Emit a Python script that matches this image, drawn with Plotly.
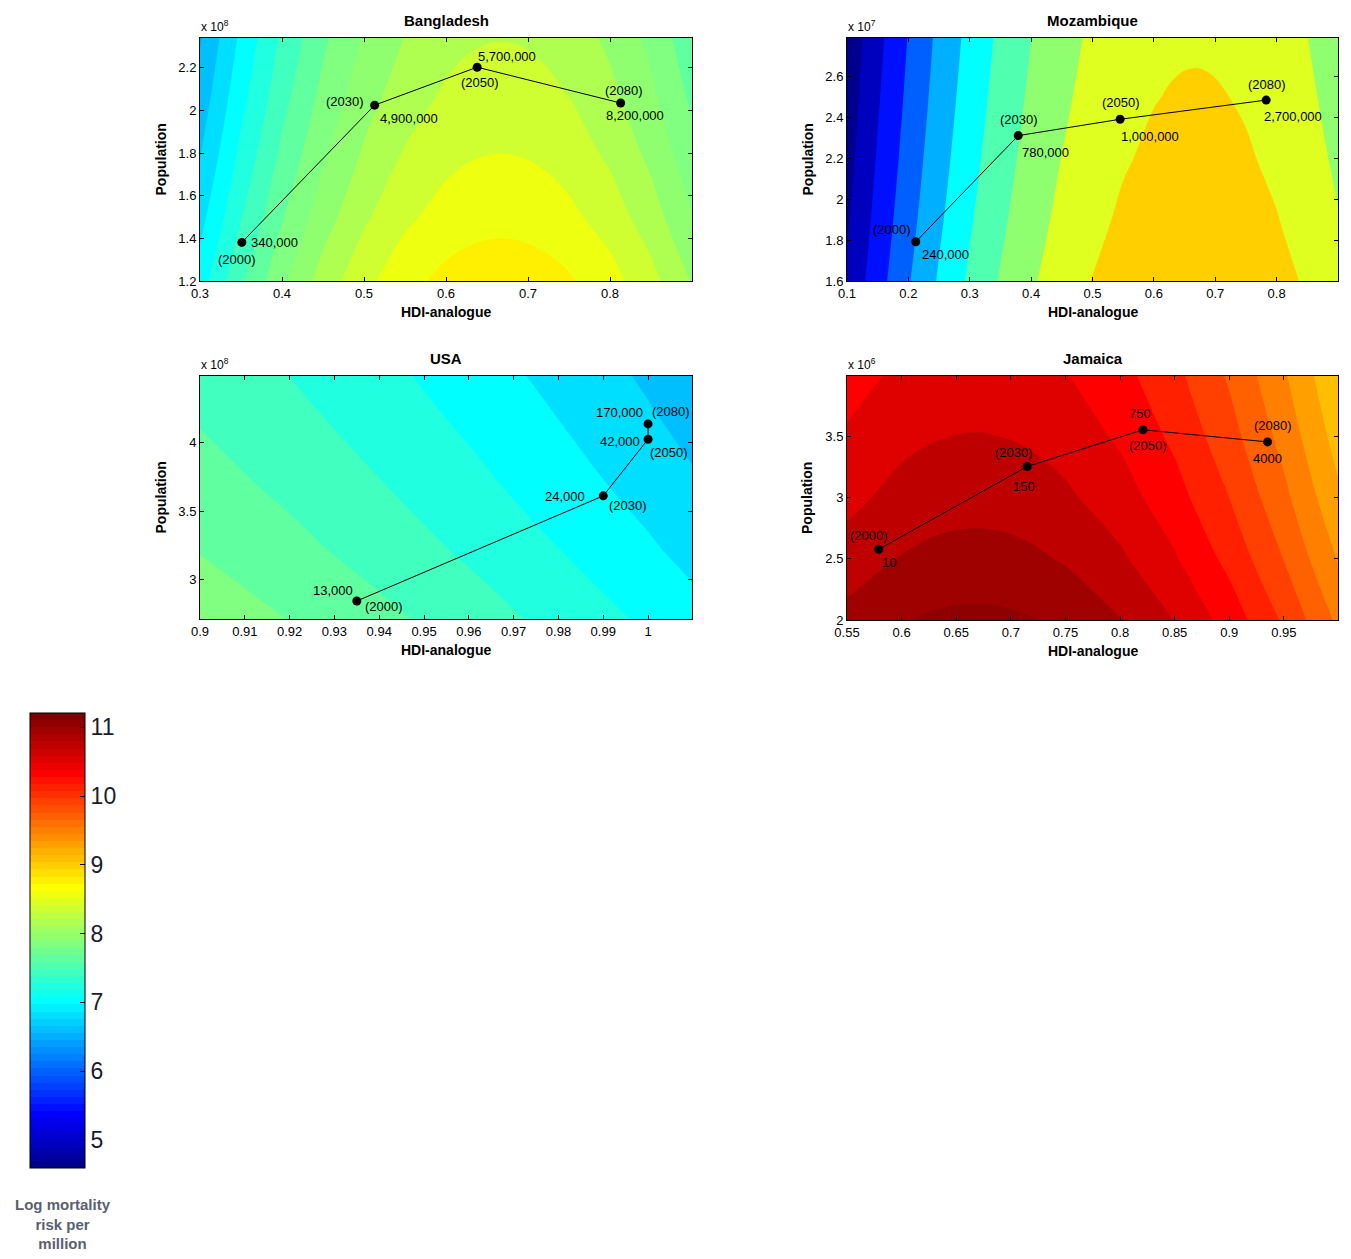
import math
import plotly.graph_objects as go

# =====================================================================
# DATA
# =====================================================================
YEARS = ["(2000)", "(2030)", "(2050)", "(2080)"]

# ---- Bangladesh (population in units of 10^8) ----
BGD_GRID_HDI = [0.30, 0.35, 0.40, 0.45, 0.50, 0.55, 0.60, 0.625, 0.65, 0.675,
                0.70, 0.725, 0.75, 0.80, 0.85, 0.90]
BGD_GRID_POP = [1.2, 1.5, 1.8, 2.1, 2.4]
BGD_Z = [
    [7.1055, 7.5655, 7.9583, 8.2838, 8.5420, 8.7330, 8.8567, 8.8934, 8.9132, 8.9162, 8.9025, 8.8719, 8.8244, 8.6792, 8.4667, 8.1869],
    [6.9305, 7.3905, 7.7833, 8.1088, 8.3670, 8.5580, 8.6817, 8.7184, 8.7382, 8.7412, 8.7275, 8.6969, 8.6494, 8.5042, 8.2917, 8.0119],
    [6.7876, 7.2476, 7.6404, 7.9659, 8.2241, 8.4151, 8.5388, 8.5755, 8.5953, 8.5983, 8.5846, 8.5540, 8.5065, 8.3613, 8.1488, 7.8690],
    [6.6667, 7.1267, 7.5195, 7.8450, 8.1032, 8.2942, 8.4179, 8.4546, 8.4744, 8.4774, 8.4637, 8.4331, 8.3856, 8.2404, 8.0279, 7.7481],
    [6.5620, 7.0220, 7.4148, 7.7403, 7.9985, 8.1895, 8.3132, 8.3499, 8.3697, 8.3727, 8.3590, 8.3284, 8.2809, 8.1357, 7.9232, 7.6434],
]
BGD_HDI = [0.351, 0.513, 0.638, 0.813]
BGD_POP = [1.381, 2.025, 2.203, 2.035]
BGD_RISK = ["340,000", "4,900,000", "5,700,000", "8,200,000"]
BGD_XTICKS = [0.3, 0.4, 0.5, 0.6, 0.7, 0.8]
BGD_YTICKS = [1.2, 1.4, 1.6, 1.8, 2.0, 2.2]

# ---- Mozambique (population in units of 10^7) ----
MOZ_GRID_HDI = [0.10, 0.15, 0.20, 0.25, 0.30, 0.35, 0.40, 0.45, 0.50, 0.55, 0.60,
                0.625, 0.65, 0.675, 0.70, 0.725, 0.75, 0.80, 0.85, 0.90]
MOZ_GRID_POP = [1.6, 1.9, 2.2, 2.5, 2.8]
MOZ_Z = [
    [5.0685, 5.7975, 6.4592, 7.0537, 7.5809, 8.0409, 8.4337, 8.7592, 9.0174, 9.2084, 9.3321, 9.3688, 9.3886, 9.3916, 9.3779, 9.3473, 9.2998, 9.1546, 8.9421, 8.6623],
    [4.9338, 5.6628, 6.3245, 6.9190, 7.4462, 7.9062, 8.2990, 8.6245, 8.8827, 9.0737, 9.1974, 9.2341, 9.2539, 9.2569, 9.2432, 9.2126, 9.1651, 9.0199, 8.8074, 8.5276],
    [4.8188, 5.5478, 6.2095, 6.8040, 7.3312, 7.7912, 8.1840, 8.5095, 8.7677, 8.9587, 9.0824, 9.1191, 9.1389, 9.1419, 9.1282, 9.0976, 9.0501, 8.9049, 8.6924, 8.4126],
    [4.7186, 5.4476, 6.1093, 6.7038, 7.2310, 7.6910, 8.0838, 8.4093, 8.6675, 8.8585, 8.9822, 9.0189, 9.0387, 9.0417, 9.0280, 8.9974, 8.9499, 8.8047, 8.5922, 8.3124],
    [4.6298, 5.3588, 6.0205, 6.6150, 7.1422, 7.6022, 7.9950, 8.3205, 8.5787, 8.7697, 8.8934, 8.9301, 8.9499, 8.9529, 8.9392, 8.9086, 8.8611, 8.7159, 8.5034, 8.2236],
]
MOZ_HDI = [0.212, 0.379, 0.545, 0.783]
MOZ_POP = [1.792, 2.312, 2.392, 2.486]
MOZ_RISK = ["240,000", "780,000", "1,000,000", "2,700,000"]
MOZ_XTICKS = [0.1, 0.2, 0.3, 0.4, 0.5, 0.6, 0.7, 0.8]
MOZ_YTICKS = [1.6, 1.8, 2.0, 2.2, 2.4, 2.6]

# ---- USA (population in units of 10^8) ----
USA_GRID_HDI = [0.90, 0.92, 0.94, 0.96, 0.98, 1.00, 1.02]
USA_GRID_POP = [2.7, 3.2, 3.7, 4.2, 4.5]
USA_Z = [
    [7.9283, 7.7976, 7.6561, 7.5038, 7.3408, 7.1670, 6.9825],
    [7.7951, 7.6644, 7.5229, 7.3706, 7.2076, 7.0338, 6.8493],
    [7.6813, 7.5506, 7.4091, 7.2568, 7.0938, 6.9200, 6.7355],
    [7.5819, 7.4512, 7.3097, 7.1574, 6.9944, 6.8206, 6.6361],
    [7.5278, 7.3971, 7.2556, 7.1033, 6.9403, 6.7665, 6.5820],
]
USA_HDI = [0.935, 0.990, 1.000, 1.000]
USA_POP = [2.842, 3.612, 4.027, 4.139]
USA_RISK = ["13,000", "24,000", "42,000", "170,000"]
USA_XTICKS = [0.9, 0.91, 0.92, 0.93, 0.94, 0.95, 0.96, 0.97, 0.98, 0.99, 1.0]
USA_YTICKS = [3.0, 3.5, 4.0]

# ---- Jamaica (population in units of 10^6) ----
JAM_GRID_HDI = [0.55, 0.60, 0.625, 0.65, 0.675, 0.70, 0.725, 0.75, 0.80, 0.85, 0.90, 0.95, 1.00]
JAM_GRID_POP = [2.0, 2.5, 3.0, 3.5, 4.0]
JAM_Z = [
    [10.9625, 11.0862, 11.1229, 11.1427, 11.1457, 11.1320, 11.1014, 11.0539, 10.9087, 10.6962, 10.4164, 10.0694, 9.6551],
    [10.7875, 10.9112, 10.9479, 10.9677, 10.9707, 10.9570, 10.9264, 10.8789, 10.7337, 10.5212, 10.2414, 9.8944, 9.4801],
    [10.6446, 10.7683, 10.8050, 10.8248, 10.8278, 10.8141, 10.7835, 10.7360, 10.5908, 10.3783, 10.0985, 9.7515, 9.3372],
    [10.5237, 10.6474, 10.6841, 10.7039, 10.7069, 10.6932, 10.6626, 10.6151, 10.4699, 10.2574, 9.9776, 9.6306, 9.2163],
    [10.4190, 10.5427, 10.5794, 10.5992, 10.6022, 10.5885, 10.5579, 10.5104, 10.3652, 10.1527, 9.8729, 9.5259, 9.1116],
]
JAM_HDI = [0.579, 0.715, 0.821, 0.935]
JAM_POP = [2.578, 3.255, 3.555, 3.456]
JAM_RISK = ["10", "150", "750", "4000"]
JAM_XTICKS = [0.55, 0.6, 0.65, 0.7, 0.75, 0.8, 0.85, 0.9, 0.95]
JAM_YTICKS = [2.0, 2.5, 3.0, 3.5]

CBAR_TICKS = [5, 6, 7, 8, 9, 10, 11]
CBAR_TITLE = "Log mortality<br>risk per<br>million"

# =====================================================================
# STYLE
# =====================================================================
W, H = 1351, 1259
FONT = "Liberation Sans, Arial, Helvetica, sans-serif"
CMIN, CMAX = 4.59, 11.21
CB_X0, CB_X1, CB_Y0, CB_Y1 = 30, 85, 713, 1168   # colour bar box in pixels


def jet64():
    u = [j / 16 for j in range(1, 17)] + [1.0] * 15 + [(48 - j) / 16 for j in range(32, 48)]
    cols = []
    for i in range(1, 65):
        r = u[i - 25] if 25 <= i <= 64 else 0.0
        g = u[i - 9] if 9 <= i <= 55 else 0.0
        b = u[i + 7] if 1 <= i <= 39 else 0.0
        cols.append("rgb(%d,%d,%d)" % (round(r * 255), round(g * 255), round(b * 255)))
    return cols


JET = jet64()


def level_color(v):
    k = int(math.floor((v - CMIN) / (CMAX - CMIN) * 64 + 1e-9)) + 1
    k = max(1, min(64, k))
    return JET[k - 1]


def band_colorscale(start, end, size):
    nc = int(round((end - start) / size)) + 1
    cols = [level_color(start - size)] + [level_color(start + j * size) for j in range(nc)]
    return [[i / nc, c] for i, c in enumerate(cols)]


def tick_text(vals):
    return [("%g" % v) for v in vals]


PANELS = [
    dict(title="Bangladesh", gh=BGD_GRID_HDI, gp=BGD_GRID_POP, z=BGD_Z, hdi=BGD_HDI, pop=BGD_POP,
         risk=BGD_RISK, xt=BGD_XTICKS, yt=BGD_YTICKS, exp="8",
         levels=(6.4, 8.8, 0.2), rect=(200, 38, 692, 281), xr=[0.3, 0.9], yr=[1.2, 2.34],
         roff=[(33, 0), (34, -13), (30, 11), (14, -12)],
         yoff=[(-5, -17), (-30, 4), (3, -15), (3, 13)]),
    dict(title="Mozambique", gh=MOZ_GRID_HDI, gp=MOZ_GRID_POP, z=MOZ_Z, hdi=MOZ_HDI, pop=MOZ_POP,
         risk=MOZ_RISK, xt=MOZ_XTICKS, yt=MOZ_YTICKS, exp="7",
         levels=(4.5, 9.0, 0.5), rect=(847, 38, 1338, 281), xr=[0.1, 0.9], yr=[1.6, 2.79],
         roff=[(30, -13), (27, -17), (30, -17), (27, -16)],
         yoff=[(-24, 12), (1, 16), (1, 17), (1, 16)]),
    dict(title="USA", gh=USA_GRID_HDI, gp=USA_GRID_POP, z=USA_Z, hdi=USA_HDI, pop=USA_POP,
         risk=USA_RISK, xt=USA_XTICKS, yt=USA_YTICKS, exp="8",
         levels=(6.4, 7.8, 0.2), rect=(200, 376, 692, 619), xr=[0.9, 1.0098], yr=[2.71, 4.49],
         roff=[(-24, 10), (-38, -1), (-28, -2), (-29, 11)],
         yoff=[(27, -6), (25, -10), (21, -13), (23, 12)]),
    dict(title="Jamaica", gh=JAM_GRID_HDI, gp=JAM_GRID_POP, z=JAM_Z, hdi=JAM_HDI, pop=JAM_POP,
         risk=JAM_RISK, xt=JAM_XTICKS, yt=JAM_YTICKS, exp="6",
         levels=(8.9, 11.1, 0.2), rect=(847, 376, 1338, 620), xr=[0.55, 0.9995], yr=[2.0, 3.995],
         roff=[(10, -13), (-3, -20), (-3, 16), (0, -17)],
         yoff=[(-10, 14), (-13, 14), (5, -16), (5, 16)]),
]

fig = go.Figure()
annotations = []
shapes = []
layout = dict(
    template="none",
    width=W, height=H, margin=dict(l=0, r=0, t=0, b=0, pad=0, autoexpand=False),
    paper_bgcolor="white", plot_bgcolor="white", showlegend=False,
    font=dict(family=FONT, size=13, color="black"),
)


def px(x):
    return x / W


def py(y):
    return 1 - y / H


for i, p in enumerate(PANELS, start=1):
    sx = "" if i == 1 else str(i)
    xa, ya = "x" + sx, "y" + sx
    x0, y0, x1, y1 = p["rect"]
    s, e, d = p["levels"]

    fig.add_trace(go.Contour(
        x=p["gh"], y=p["gp"], z=p["z"], xaxis=xa, yaxis=ya,
        autocontour=False,
        contours=dict(start=s, end=e, size=d, coloring="fill", showlines=False),
        line=dict(width=0, smoothing=1.0),
        colorscale=band_colorscale(s, e, d), showscale=False, hoverinfo="skip",
    ))
    fig.add_trace(go.Scatter(
        x=p["hdi"], y=p["pop"], xaxis=xa, yaxis=ya, mode="lines+markers",
        line=dict(color="black", width=1),
        marker=dict(color="black", size=9, line=dict(color="black", width=0)),
        hoverinfo="skip", cliponaxis=False,
    ))

    axis_common = dict(
        showline=True, linecolor="black", linewidth=1, mirror="allticks",
        ticks="inside", ticklen=4, tickwidth=1, tickcolor="black",
        showgrid=False, zeroline=False, fixedrange=True, automargin=False,
        tickfont=dict(family=FONT, size=13, color="black"),
    )
    layout["xaxis" + sx] = dict(
        axis_common, domain=[px(x0), px(x1)], range=p["xr"], anchor=ya,
        tickmode="array", tickvals=p["xt"], ticktext=tick_text(p["xt"]),
    )
    layout["yaxis" + sx] = dict(
        axis_common, domain=[py(y1), py(y0)], range=p["yr"], anchor=xa,
        tickmode="array", tickvals=p["yt"], ticktext=tick_text(p["yt"]),
    )

    cx = (x0 + x1) / 2
    annotations.append(dict(text="<b>%s</b>" % p["title"], x=px(cx), y=py(y0 - 17),
                            xref="paper", yref="paper", showarrow=False,
                            font=dict(family=FONT, size=15, color="black"),
                            xanchor="center", yanchor="middle"))
    annotations.append(dict(text="<b>HDI-analogue</b>", x=px(cx), y=py(y1 + 31),
                            xref="paper", yref="paper", showarrow=False,
                            font=dict(family=FONT, size=14, color="black"),
                            xanchor="center", yanchor="middle"))
    annotations.append(dict(text="<b>Population</b>", x=px(x0 - 40), y=py((y0 + y1) / 2),
                            xref="paper", yref="paper", showarrow=False, textangle=-90,
                            font=dict(family=FONT, size=14, color="black"),
                            xanchor="center", yanchor="middle"))
    annotations.append(dict(text="x 10<sup>%s</sup>" % p["exp"], x=px(x0 - 1), y=py(y0 - 12),
                            xref="paper", yref="paper", showarrow=False,
                            font=dict(family=FONT, size=12, color="black"),
                            xanchor="left", yanchor="middle"))
    for j in range(4):
        rdx, rdy = p["roff"][j]
        annotations.append(dict(text=p["risk"][j], x=p["hdi"][j], y=p["pop"][j], xref=xa, yref=ya,
                                showarrow=False, xshift=rdx, yshift=rdy, xanchor="center", yanchor="middle",
                                font=dict(family=FONT, size=13, color="black")))
        ydx, ydy = p["yoff"][j]
        annotations.append(dict(text=YEARS[j], x=p["hdi"][j], y=p["pop"][j], xref=xa, yref=ya,
                                showarrow=False, xshift=ydx, yshift=ydy, xanchor="center", yanchor="middle",
                                font=dict(family=FONT, size=13, color="black")))

# ---- colour bar (stepped jet, 64 colours) ----
cb_scale = []
for k in range(64):
    cb_scale.append([k / 64, JET[k]])
    cb_scale.append([(k + 1) / 64, JET[k]])

fig.add_trace(go.Heatmap(
    x=[-10, -9], y=[-10], z=[[CMIN, CMAX]], zmin=CMIN, zmax=CMAX, xaxis="x", yaxis="y",
    colorscale=cb_scale, hoverinfo="skip", showscale=True,
    colorbar=dict(
        x=px(CB_X0), xanchor="left", y=py(CB_Y1), yanchor="bottom",
        len=(CB_Y1 - CB_Y0) / H, lenmode="fraction", thickness=CB_X1 - CB_X0, thicknessmode="pixels",
        outlinewidth=1, outlinecolor="black", xpad=0, ypad=0, borderwidth=0,
        tickmode="array", tickvals=CBAR_TICKS, ticktext=[str(t) for t in CBAR_TICKS],
        ticks="inside", ticklen=5, tickwidth=1, tickcolor="black",
        tickfont=dict(family=FONT, size=23, color="#1c1c2a"),
    ),
))

# tick marks on the left edge of the colour bar (MATLAB draws both sides)
for t in CBAR_TICKS:
    yy = CB_Y1 - (t - CMIN) / (CMAX - CMIN) * (CB_Y1 - CB_Y0)
    shapes.append(dict(type="line", xref="paper", yref="paper",
                       x0=px(CB_X0), x1=px(CB_X0 + 5), y0=py(yy), y1=py(yy),
                       line=dict(color="black", width=1)))

annotations.append(dict(text="<b>%s</b>" % CBAR_TITLE, x=px(63), y=py(1224), xref="paper", yref="paper",
                        showarrow=False, xanchor="center", yanchor="middle", align="center",
                        font=dict(family=FONT, size=15, color="#5a6070")))

layout["annotations"] = annotations
layout["shapes"] = shapes
fig.update_layout(**layout)
fig.write_html("out.html",
               config={"displayModeBar": False, "staticPlot": False},
               post_script="document.body.style.margin='0px';document.body.style.padding='0px';")
